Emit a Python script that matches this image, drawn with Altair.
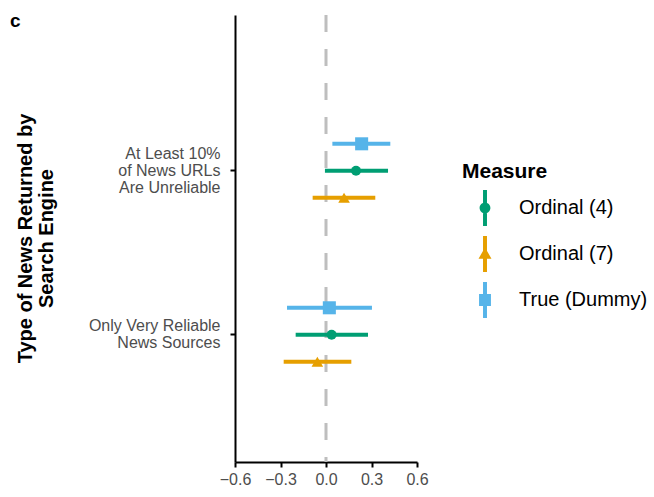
import altair as alt
import pandas as pd

categories = ["At Least 10% of News URLs Are Unreliable", "Only Very Reliable News Sources"]
measures = ["Ordinal (4)", "Ordinal (7)", "True (Dummy)"]
colors = ["#009E73", "#E69F00", "#56B4E9"]
shapes = ["circle", "triangle-up", "square"]
sizes = [100, 170, 130]

# rows: category x measure (Ordinal (4), Ordinal (7), True (Dummy))
estimate = [0.198, 0.119, 0.235, 0.037, -0.057, 0.022]
lower = [-0.007, -0.088, 0.042, -0.200, -0.279, -0.257]
upper = [0.409, 0.325, 0.424, 0.277, 0.167, 0.303]

x_ticks = [-0.6, -0.3, 0.0, 0.3, 0.6]

cat_col = [c for c in categories for _ in measures]
meas_col = [m for _ in categories for m in measures]
df = pd.DataFrame({"Type": cat_col, "Measure": meas_col, "est": estimate, "lo": lower, "hi": upper})

offset_order = ["True (Dummy)", "Ordinal (4)", "Ordinal (7)"]

# legend symbols: vertical line + marker
bar_path = "M-0.11,-1L0.11,-1L0.11,1L-0.11,1Z"
legend_paths = [
    bar_path + " M0.3,0A0.3,0.3 0 1,1 -0.3,0A0.3,0.3 0 1,1 0.3,0Z",
    bar_path + " M0,-0.36L0.36,0.26L-0.36,0.26Z",
    bar_path + " M-0.33,-0.33L0.33,-0.33L0.33,0.33L-0.33,0.33Z",
]

label_expr = (
    "datum.label == 'At Least 10% of News URLs Are Unreliable' ? "
    "['At Least 10%', 'of News URLs', 'Are Unreliable'] : ['Only Very Reliable', 'News Sources']"
)

y_enc = alt.Y(
    "Type:N",
    sort=categories,
    scale=alt.Scale(paddingInner=0, paddingOuter=0.363, align=0.62),
    axis=alt.Axis(
        labelExpr=label_expr,
        labelLineHeight=17,
        labelFontSize=16,
        labelColor="#4D4D4D",
        labelPadding=10,
        labelOffset={
            "condition": {"test": "datum.value == 'At Least 10% of News URLs Are Unreliable'", "value": -17},
            "value": -8.5,
        },
        tickSize=5,
        tickColor="black",
        tickWidth=2,
        domainColor="black",
        domainWidth=2,
        title=["Type of News Returned by", "Search Engine"],
        titleFontSize=20,
        titleFontWeight="bold",
        titleColor="black",
        titleLineHeight=21,
        titleX=-210,
        titleY=223,
        titleAlign="center",
        titleBaseline="middle",
        titleAngle=270,
    ),
)
yoff_enc = alt.YOffset(
    "Measure:N", sort=offset_order,
    scale=alt.Scale(paddingInner=0, paddingOuter=0, range=[41.5, 122.5]),
)
x_scale = alt.Scale(domain=[-0.6, 0.6], nice=False, zero=False)
x_axis = alt.Axis(
    values=x_ticks,
    format=".1f",
    labelFontSize=16,
    labelColor="#4D4D4D",
    labelPadding=4,
    labelOverlap=False,
    labelFlush=False,
    labelBound=False,
    tickSize=5,
    tickColor="black",
    tickWidth=2,
    domainColor="black",
    domainWidth=2,
    grid=False,
    title=None,
)

color_plain = alt.Color("Measure:N", scale=alt.Scale(domain=measures, range=colors), legend=None)

zero = alt.Chart(pd.DataFrame({"z": [0.0]})).mark_rule(
    strokeDash=[17, 17], color="#BEBEBE", strokeWidth=3
).encode(x=alt.X("z:Q", scale=x_scale, axis=x_axis))

bars = alt.Chart(df).mark_rule(strokeWidth=4).encode(
    x=alt.X("lo:Q", scale=x_scale, axis=x_axis),
    x2="hi:Q",
    y=y_enc,
    yOffset=yoff_enc,
    color=color_plain,
)

points = alt.Chart(df).mark_point(filled=True, opacity=1).encode(
    x=alt.X("est:Q", scale=x_scale, axis=x_axis),
    y=y_enc,
    yOffset=yoff_enc,
    color=color_plain,
    shape=alt.Shape("Measure:N", scale=alt.Scale(domain=measures, range=shapes), legend=None),
    size=alt.Size("Measure:N", scale=alt.Scale(domain=measures, range=sizes), legend=None),
)

leg = alt.Legend(
    title="Measure",
    orient="none",
    legendX=227,
    legendY=146,
    titleFontSize=21,
    titleFontWeight="bold",
    titleColor="black",
    titlePadding=8,
    labelFontSize=20,
    labelColor="black",
    symbolSize=1296,
    symbolStrokeWidth=0,
    symbolOpacity=1,
    symbolOffset=5,
    rowPadding=10,
    labelOffset=16,
    padding=0,
)

legend_layer = alt.Chart(df).mark_point(filled=True, opacity=1).encode(
    color=alt.Color("Measure:N", scale=alt.Scale(domain=measures, range=colors), legend=leg),
    shape=alt.Shape("Measure:N", scale=alt.Scale(domain=measures, range=legend_paths), legend=leg),
).transform_filter("false")

chart = alt.layer(zero, bars, points, legend_layer).resolve_scale(
    color="independent", shape="independent"
).properties(
    width=182,
    height=447,
    autosize="none",
    padding={"left": 235, "top": 15, "right": 237, "bottom": 35},
    background="white",
    title=alt.Title("c", anchor="start", frame="group", dx=-225, dy=21, fontSize=19, fontWeight="bold", color="black"),
).configure(
    font="Liberation Sans",
).configure_view(stroke=None)

chart.save("out.html", embed_options={"renderer": "svg", "actions": False})
